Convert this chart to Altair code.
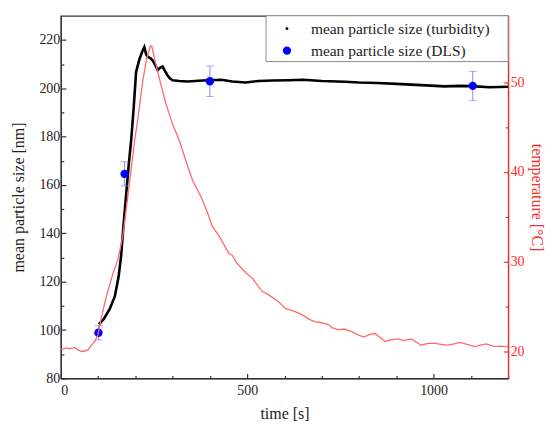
import altair as alt
import pandas as pd

# ---- data ----
turb_t = [102, 115, 131, 145, 155, 162, 168, 175, 182, 189, 196, 202, 211, 218, 224, 229,
          233, 240, 246, 252, 260, 266, 273, 280, 286, 293, 300, 318, 340, 360, 380, 402,
          430, 460, 496, 530, 570, 611, 650, 700, 763, 800, 850, 900, 940, 980, 1030,
          1070, 1100, 1150, 1200]
turb_v = [102.4, 104.5, 108.6, 114.0, 122.0, 131.0, 143.0, 155.6, 168.0, 179.0, 193.0,
          206.8, 212.0, 215.0, 217.0, 214.0, 213.0, 212.5, 211.6, 210.0, 207.5, 208.5,
          209.0, 207.0, 205.4, 204.0, 203.3, 203.0, 202.8, 203.0, 203.2, 203.3, 203.5,
          202.8, 202.4, 203.0, 203.2, 203.3, 203.5, 203.0, 202.7, 202.4, 202.2, 201.8,
          201.5, 201.2, 200.8, 201.0, 200.9, 200.4, 200.6]

temp_t = [0, 15, 25, 37, 45, 55, 65, 73, 86, 91, 100, 110, 122, 140, 153, 166, 182, 198,
          206, 220, 230, 240, 244, 255, 268, 282, 300, 318, 335, 353, 380, 393, 407, 424,
          451, 460, 473, 496, 513, 540, 558, 585, 602, 625, 647, 665, 683, 700, 718, 730,
          745, 760, 780, 795, 812, 830, 843, 855, 870, 885, 905, 920, 940, 955, 967, 985,
          1003, 1020, 1038, 1055, 1070, 1090, 1110, 1125, 1141, 1163, 1180, 1200]
temp_v = [20.2, 20.4, 20.3, 20.45, 20.2, 20.0, 20.05, 20.2, 20.9, 21.1, 21.9, 24.0, 26.1,
          28.7, 30.2, 32.8, 38.0, 43.5, 45.7, 50.2, 52.5, 54.0, 54.0, 52.0, 49.8, 47.6,
          45.3, 43.5, 41.3, 39.1, 36.9, 35.5, 33.9, 32.9, 30.9, 30.7, 29.8, 28.8, 28.2,
          26.7, 26.3, 25.5, 24.8, 24.5, 24.1, 23.6, 23.3, 23.2, 23.0, 22.6, 22.4, 22.5,
          22.2, 21.9, 21.6, 21.9, 22.0, 21.6, 21.1, 21.3, 21.4, 21.2, 21.4, 21.0, 20.7,
          20.9, 20.9, 20.8, 20.7, 20.85, 21.0, 20.8, 20.55, 20.7, 20.85, 20.55, 20.6, 20.5]

dls_t = [101, 171, 400, 1105]
dls_v = [98.9, 164.6, 202.9, 201.0]
dls_err = [3.0, 5.0, 6.3, 6.0]

legend_labels = ["mean particle size (turbidity)", "mean particle size (DLS)"]

FONT = "Liberation Serif"
RED = "#ff2a2a"
TXT = "#222222"

turb = pd.DataFrame({"t": turb_t, "v": turb_v})
temp = pd.DataFrame({"t": temp_t, "T": temp_v})
dls = pd.DataFrame({
    "t": dls_t, "v": dls_v,
    "lo": [v - e for v, e in zip(dls_v, dls_err)],
    "hi": [v + e for v, e in zip(dls_v, dls_err)],
})

x_scale = alt.Scale(domain=[0, 1200], nice=False, zero=False)
yl_scale = alt.Scale(domain=[80, 230], nice=False, zero=False)
yr_scale = alt.Scale(domain=[17, 57.4], nice=False, zero=False)

x_axis = alt.Axis(
    title="time [s]", values=list(range(0, 1201, 100)), format="d",
    labelExpr="datum.value % 500 === 0 ? datum.label : ''",
    tickSize={"condition": {"test": "datum.value % 500 === 0", "value": -5}, "value": -3},
    labelPadding=10, titlePadding=8, orient="bottom",
)
yl_axis = alt.Axis(
    title="mean particle size [nm]", values=list(range(80, 221, 10)), format="d",
    labelExpr="datum.value % 20 === 0 ? datum.label : ''",
    tickSize={"condition": {"test": "datum.value % 20 === 0", "value": -5}, "value": -3},
    labelPadding=6, titlePadding=12, orient="left",
)
yr_axis = alt.Axis(
    title="temperature [°C]", values=[20, 25, 30, 35, 40, 45, 50, 55], format="d",
    labelExpr="datum.value % 10 === 0 ? datum.label : ''",
    tickSize={"condition": {"test": "datum.value % 10 === 0", "value": -5}, "value": -3},
    labelPadding=7, titlePadding=4, orient="right",
    domainColor=RED, tickColor=RED, labelColor=RED, titleColor=RED,
)

X = alt.X("t:Q", scale=x_scale, axis=x_axis)

temp_line = alt.Chart(temp).mark_line(color="#ff6a6a", strokeWidth=1.3).encode(
    x=X, y=alt.Y("T:Q", scale=yr_scale, axis=yr_axis)
)

turb_line = alt.Chart(turb).mark_line(color="black", strokeWidth=2.6).encode(
    x=X, y=alt.Y("v:Q", scale=yl_scale, axis=yl_axis)
)
err = alt.Chart(dls).mark_rule(color="#8a8aff", strokeWidth=1).encode(
    x=X, y=alt.Y("lo:Q", scale=yl_scale, axis=yl_axis), y2="hi:Q"
)
cap_lo = alt.Chart(dls).mark_tick(color="#8a8aff", thickness=1, size=8, orient="horizontal").encode(
    x=X, y=alt.Y("lo:Q", scale=yl_scale, axis=yl_axis)
)
cap_hi = alt.Chart(dls).mark_tick(color="#8a8aff", thickness=1, size=8, orient="horizontal").encode(
    x=X, y=alt.Y("hi:Q", scale=yl_scale, axis=yl_axis)
)
pts = alt.Chart(dls).mark_circle(color="#0000ff", size=70, opacity=1).encode(
    x=X, y=alt.Y("v:Q", scale=yl_scale, axis=yl_axis)
)

one = pd.DataFrame({"k": [0]})
leg_box = alt.Chart(one).mark_rect(fill="white", stroke="#8c8c8c", strokeWidth=1).encode(
    x=alt.value(206), x2=alt.value(449), y=alt.value(0), y2=alt.value(46)
)
leg_sym1 = alt.Chart(one).mark_circle(color="black", size=8, opacity=1).encode(
    x=alt.value(227), y=alt.value(13)
)
leg_sym2 = alt.Chart(one).mark_circle(color="#0000ff", size=70, opacity=1).encode(
    x=alt.value(227), y=alt.value(35)
)
leg_txt1 = alt.Chart(one).mark_text(
    text=legend_labels[0], font=FONT, fontSize=15.5, color=TXT, align="left", baseline="middle"
).encode(x=alt.value(251), y=alt.value(13))
leg_txt2 = alt.Chart(one).mark_text(
    text=legend_labels[1], font=FONT, fontSize=15.5, color=TXT, align="left", baseline="middle"
).encode(x=alt.value(251), y=alt.value(35))

left = alt.layer(turb_line, err, cap_lo, cap_hi, pts, leg_box, leg_sym1, leg_sym2, leg_txt1, leg_txt2)

chart = alt.layer(left, temp_line).resolve_scale(y="independent").properties(
    width=449, height=364,
    autosize=alt.AutoSizeParams(type="none"),
    padding={"left": 53, "top": 7, "right": 40, "bottom": 43},
).configure_view(stroke="#333333", strokeWidth=1.2).configure_axis(
    grid=False, labelFont=FONT, titleFont=FONT, labelFontSize=14, titleFontSize=16,
    titleFontWeight="normal", labelColor=TXT, titleColor=TXT, domainColor="#333333",
    tickColor="#333333", domainWidth=1.2, tickWidth=1.2,
)

chart.save("out.html", embed_options={"renderer": "svg", "actions": False})
